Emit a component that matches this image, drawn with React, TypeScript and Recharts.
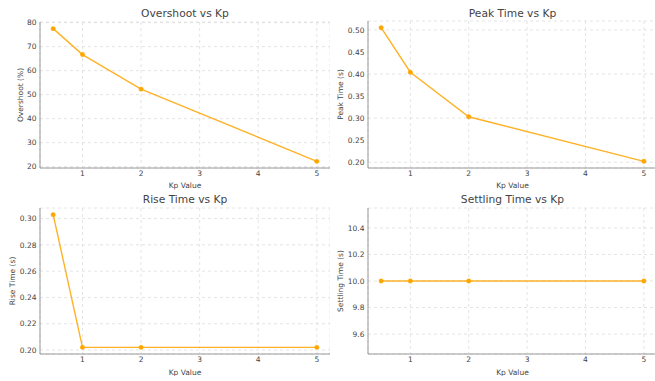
import { CartesianGrid, Line, LineChart, XAxis, YAxis } from "recharts";

const kpValues = [0.5, 1, 2, 5];
const overshoot = [77.5, 66.7, 52.3, 22.2];
const peakTime = [0.505, 0.404, 0.303, 0.202];
const riseTime = [0.303, 0.202, 0.202, 0.202];
const settlingTime = [10, 10, 10, 10];

const xTicks = [1, 2, 3, 4, 5];
const overshootTicks = [20, 30, 40, 50, 60, 70, 80];
const peakTicks = [0.2, 0.25, 0.3, 0.35, 0.4, 0.45, 0.5];
const riseTicks = [0.2, 0.22, 0.24, 0.26, 0.28, 0.3];
const settlingTicks = [9.6, 9.8, 10.0, 10.2, 10.4];

const FONT = "'DejaVu Sans', sans-serif";
const ORANGE = "#FFA500";
const TEXT = "#444";

// matplotlib-like 5% padding around the data range
function padded(vals: number[]): [number, number] {
  const lo = Math.min(...vals);
  const hi = Math.max(...vals);
  if (lo === hi) return [lo - 0.55, hi + 0.55];
  const m = (hi - lo) * 0.05;
  return [lo - m, hi + m];
}

type PanelProps = {
  title: string;
  yLabel: string;
  values: number[];
  yTicks: number[];
  decimals: number;
  left: number;
  top: number;
  width: number;
  height: number;
  plotTop: number;
  titleY: number;
  yAxisWidth: number;
  yLabelX: number;
  xLabelOffset: number;
};

function Panel(p: PanelProps) {
  const data = kpValues.map((k, i) => ({ kp: k, v: p.values[i] }));
  return (
    <div style={{ position: "absolute", left: p.left, top: p.top, width: p.width, height: p.height }}>
      <LineChart
        width={p.width}
        height={p.height}
        data={data}
        margin={{ top: p.plotTop, right: 0, left: 0, bottom: 0 }}
      >
        <CartesianGrid stroke="#ddd" strokeDasharray="3 3" strokeWidth={0.8} />
        <XAxis
          dataKey="kp"
          type="number"
          domain={[0.275, 5.225]}
          ticks={xTicks}
          height={22}
          tickLine={false}
          tickSize={0}
          axisLine={{ stroke: "#999" }}
          tick={{ fontSize: 7.5, fill: TEXT, fontFamily: FONT }}
          tickMargin={3}
          label={{
            value: "Kp Value",
            position: "insideBottom",
            offset: p.xLabelOffset,
            style: { fontSize: 7.5, fill: TEXT, fontFamily: FONT },
          }}
        />
        <YAxis
          type="number"
          domain={padded(p.values)}
          ticks={p.yTicks}
          width={p.yAxisWidth}
          tickLine={false}
          tickSize={0}
          axisLine={{ stroke: "#999" }}
          tick={{ fontSize: 7.5, fill: TEXT, fontFamily: FONT }}
          tickMargin={3.5}
          tickFormatter={(v: number) => v.toFixed(p.decimals)}
          label={{
            value: p.yLabel,
            angle: -90,
            position: "insideLeft",
            offset: p.yLabelX,
            style: { fontSize: 7.5, fill: TEXT, fontFamily: FONT, textAnchor: "middle" },
          }}
        />
        <Line
          dataKey="v"
          stroke={ORANGE}
          strokeOpacity={0.85}
          strokeWidth={1.4}
          dot={{ r: 2.2, fill: ORANGE, stroke: ORANGE, strokeWidth: 0.5 }}
          isAnimationActive={false}
        />
      </LineChart>
      <div
        style={{
          position: "absolute",
          left: p.yAxisWidth,
          right: 0,
          top: p.titleY - 7,
          height: 14,
          lineHeight: "14px",
          textAlign: "center",
          fontFamily: FONT,
          fontSize: 10.7,
          color: TEXT,
          zIndex: 2,
        }}
      >
        {p.title}
      </div>
    </div>
  );
}

export default function App() {
  return (
    <div style={{ position: "absolute", left: 0, top: 0, width: 655, height: 381, background: "#fff", overflow: "hidden" }}>
      <Panel title="Overshoot vs Kp" yLabel="Overshoot (%)" values={overshoot} yTicks={overshootTicks} decimals={0}
        left={0} top={0} width={330} height={190} plotTop={22} titleY={14} yAxisWidth={40} yLabelX={20} xLabelOffset={2} />
      <Panel title="Peak Time vs Kp" yLabel="Peak Time (s)" values={peakTime} yTicks={peakTicks} decimals={2}
        left={327} top={0} width={330} height={190} plotTop={21} titleY={14} yAxisWidth={41} yLabelX={13} xLabelOffset={2} />
      <Panel title="Rise Time vs Kp" yLabel="Rise Time (s)" values={riseTime} yTicks={riseTicks} decimals={2}
        left={0} top={190} width={330} height={186} plotTop={18} titleY={10} yAxisWidth={40} yLabelX={12} xLabelOffset={1} />
      <Panel title="Settling Time vs Kp" yLabel="Settling Time (s)" values={settlingTime} yTicks={settlingTicks} decimals={1}
        left={327} top={190} width={330} height={186} plotTop={18} titleY={10} yAxisWidth={41} yLabelX={13} xLabelOffset={1} />
    </div>
  );
}
